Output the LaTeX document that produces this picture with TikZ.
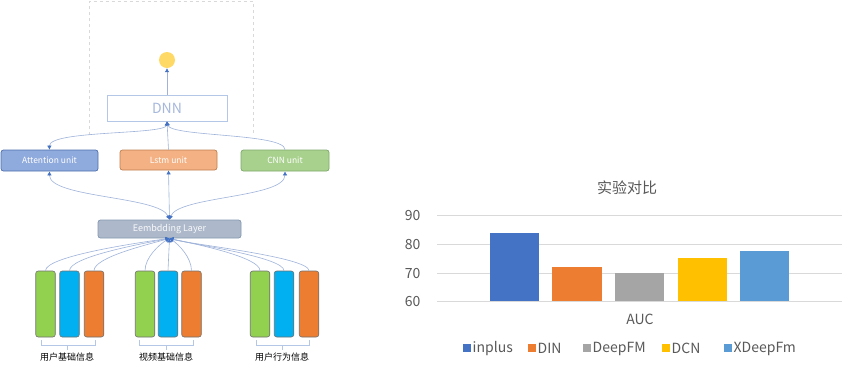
\documentclass[tikz,border=0pt]{standalone}
\usepackage{fontspec}
\setmainfont{Noto Sans CJK SC}
\usetikzlibrary{arrows.meta}
\definecolor{conn}{HTML}{9FB3DA}
\definecolor{tipc}{HTML}{4472C4}
\definecolor{attf}{HTML}{8FAADC}
\definecolor{attd}{HTML}{4F6FAE}
\definecolor{lstf}{HTML}{F4B183}
\definecolor{lstd}{HTML}{C08050}
\definecolor{cnnf}{HTML}{A9D18E}
\definecolor{cnnd}{HTML}{7FA86A}
\definecolor{embf}{HTML}{ADB9CA}
\definecolor{embd}{HTML}{8497B0}
\definecolor{dnnd}{HTML}{B4C7E7}
\definecolor{dnnt}{HTML}{A6B8DC}
\definecolor{bgreen}{HTML}{92D050}
\definecolor{bblue}{HTML}{00B0F0}
\definecolor{borange}{HTML}{ED7D31}
\definecolor{bedge}{HTML}{707070}
\definecolor{txt}{HTML}{595959}
\definecolor{grid}{HTML}{D9D9D9}
\definecolor{cA}{HTML}{4472C4}
\definecolor{cB}{HTML}{ED7D31}
\definecolor{cC}{HTML}{A5A5A5}
\definecolor{cD}{HTML}{FFC000}
\definecolor{cE}{HTML}{5B9BD5}
\definecolor{yel}{HTML}{FFD966}
\tikzset{
  unitbox/.style={rounded corners=2.5pt, line width=0.7pt, inner sep=0pt, text=white, font=\fontsize{8.5}{10}\selectfont},
  featbar/.style={rounded corners=2.5pt, draw=bedge, line width=0.6pt, minimum width=19.5pt, minimum height=66pt, inner sep=0pt},
  link/.style={draw=conn, line width=0.6pt},
  tipu/.style={-{Latex[length=4pt,width=4.5pt,color=tipc]}},
  tipb/.style={{Latex[length=4pt,width=4.5pt,color=tipc]}-{Latex[length=4pt,width=4.5pt,color=tipc]}},
  brace/.style={draw=dnnd, line width=0.6pt},
  grp/.style={font=\fontsize{9}{10}\selectfont, text=black},
  axl/.style={font=\fontsize{14}{16}\selectfont, text=txt},
  legsq/.style={minimum size=7.5pt, inner sep=0pt},
}
\begin{document}
\begin{tikzpicture}[x=1pt,y=-1pt]
\useasboundingbox (0,0) rectangle (858,368);
\fill[white] (0,0) rectangle (858,368);
% dashed frame
\draw[grid, dashed, line width=0.6pt] (89,135) -- (89,1.5) -- (253,1.5) -- (253,135);
% nodes
\node[circle, fill=yel, minimum size=16pt, inner sep=0pt] (out) at (167,60) {};
\node[draw=dnnd, line width=0.8pt, fill=white, minimum width=120pt, minimum height=26pt, inner sep=0pt, text=dnnt, font=\fontsize{14}{16}\selectfont] (dnn) at (167,108) {DNN};
\node[unitbox, fill=attf, draw=attd, minimum width=97pt, minimum height=21pt] (att) at (49.5,160.5) {Attention unit};
\node[unitbox, fill=lstf, draw=lstd, minimum width=97pt, minimum height=20pt] (lst) at (168.5,160) {Lstm unit};
\node[unitbox, fill=cnnf, draw=cnnd, minimum width=88pt, minimum height=21pt] (cnn) at (285,160.5) {CNN unit};
\node[unitbox, fill=embf, draw=embd, minimum width=143pt, minimum height=18pt, text=white!92!embf, font=\fontsize{9}{10}\selectfont] (emb) at (169.5,229) {Eembdding Layer};
% connectors top
\draw[link, tipu] (dnn.north) -- (out.south);
\draw[link, tipb] (dnn.south) .. controls (166,135) and (49,130) .. (att.north);
\draw[link, tipu] (lst.north) -- (dnn.south);
\draw[link, tipu] (cnn.north) .. controls (285,133) and (170,137) .. (dnn.south);
\draw[link, tipb] (emb.north) .. controls (160,196) and (49,198) .. (att.south);
\draw[link, tipb] (emb.north) -- (lst.south);
\draw[link, tipb] (emb.north) .. controls (178,196) and (285,198) .. (cnn.south);
% feature bars
\foreach \i/\bx/\col in {11/45.5/bgreen, 12/69.5/bblue, 13/94/borange,
                         21/145/bgreen, 22/168/bblue, 23/191.5/borange,
                         31/260/bgreen, 32/284/bblue, 33/309/borange}{
  \node[featbar, fill=\col] (b\i) at (\bx,304) {};
}
\foreach \i/\bx/\c in {11/45.5/128, 12/69.5/140, 13/94/150,
                       21/145/160, 23/191.5/178,
                       31/260/195, 32/284/190, 33/309/188}{
  \draw[link, tipu] (b\i.north) .. controls (\bx,257) and (\c,244) .. (emb.south);
}
\draw[link, tipu] (b22.north) -- (emb.south);
% brackets and labels
\foreach \l/\r/\m/\t [count=\k] in {41/95/67/用户基础信息, 139/193/166/视频基础信息, 256/309/282/用户行为信息}{
  \draw[brace] (\l,340) -- (\l,345.5) -- (\r,345.5) -- (\r,340);
  \draw[brace] (\m,345.5) -- (\m,349.5);
  \node[grp] (g\k) at (\m,357.5) {\t};
}
% ---------------- chart ----------------
\node[font=\fontsize{15}{17}\selectfont, text=txt] (title) at (627,188) {实验对比};
\foreach \v/\yy in {90/215, 80/244, 70/273, 60/301}{
  \draw[grid, line width=0.8pt] (437,\yy) -- (842,\yy);
  \node[axl, anchor=east] (y\v) at (424,\yy) {\v};
}
\fill[cA] (490,233) rectangle (539,301);
\fill[cB] (552,267) rectangle (602,301);
\fill[cC] (615,273) rectangle (664,301);
\fill[cD] (678,258) rectangle (727,301);
\fill[cE] (740,250.5) rectangle (789,301);
\draw[grid, line width=0.8pt] (437,301) -- (842,301);
\node[axl] (auc) at (640,319) {AUC};
% legend
\foreach \sx/\col/\t [count=\k] in {467/cA/inplus, 532/cB/DIN, 587/cC/DeepFM, 666/cD/DCN, 728/cE/XDeepFm}{
  \node[legsq, fill=\col] (sq\k) at (\sx,348) {};
  \node[axl, anchor=west, inner sep=0pt] (lg\k) at (\sx+5.5,348.5) {\t};
}
\end{tikzpicture}
\end{document}
